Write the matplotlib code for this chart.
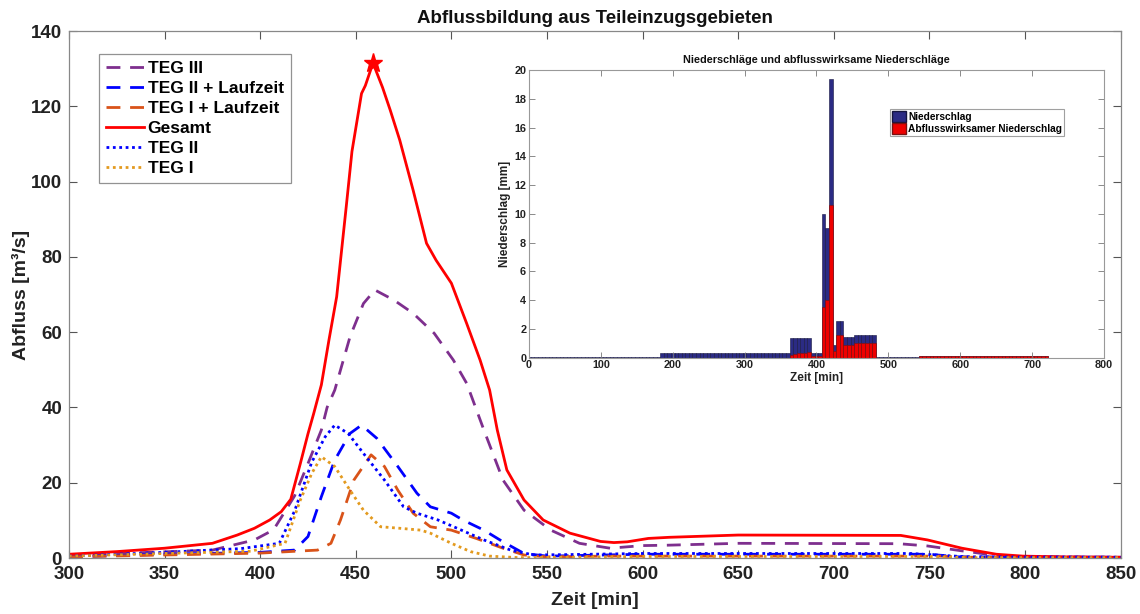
import numpy as np
import matplotlib
matplotlib.use("Agg")
import matplotlib.pyplot as plt
from matplotlib.patches import Patch

plt.rcParams['font.family'] = ['Liberation Sans', 'DejaVu Sans']
plt.rcParams['font.weight'] = 'bold'

# ---------------- main hydrograph data ----------------
t_teg3 = [300, 348, 375, 397, 407, 418, 425, 432, 435, 439, 447, 454, 460, 470, 480, 491, 501, 508, 517, 527, 538, 552, 567, 583, 600, 613, 650, 734, 749, 767, 785, 800, 850]
q_teg3 = [0.8, 1.6, 2.1, 4.8, 7.5, 16.5, 25.1, 34, 40, 44.6, 58.8, 67.6, 71.2, 68.5, 65, 59.7, 52.6, 46.4, 34, 20.7, 12.7, 7.4, 3.9, 2.6, 3.3, 3.4, 3.9, 3.8, 3.2, 1.9, 0.7, 0.3, 0.2]

t_teg2_lz = [300, 350, 400, 418, 425, 432, 439, 447, 453, 461, 472, 482, 489, 500, 506, 517, 527, 538, 550, 600, 750, 765, 850]
q_teg2_lz = [0.3, 1.0, 1.5, 2.1, 5.7, 16.3, 26, 33.1, 35.3, 31.8, 24.3, 17.2, 13.6, 11.9, 10.1, 7.4, 4.3, 1.2, 0.5, 1.0, 1.0, 0.3, 0.2]

t_teg1_lz = [300, 350, 400, 430, 437, 442, 449, 458, 465, 472, 480, 489, 500, 513, 527, 538, 550, 580, 755, 770, 850]
q_teg1_lz = [0.3, 0.8, 1.3, 2.1, 3.9, 10.1, 20.7, 27.4, 24.3, 18, 11.9, 8.3, 7.4, 5.2, 2.6, 0.8, 0.3, 0.5, 0.5, 0.2, 0.1]

t_gesamt = [300, 325, 350, 375, 388, 397, 405, 411, 416, 421, 425, 428, 432, 436, 440, 445, 448, 453, 455, 459, 464, 468, 473, 480, 487, 492, 500, 508, 515, 520, 524, 529, 538, 548, 562, 578, 585, 592, 603, 614, 650, 735, 749, 767, 785, 799, 820, 850]
q_gesamt = [1.0, 1.7, 2.6, 3.9, 6.1, 7.9, 10.1, 12.3, 15.6, 25.1, 33, 38.4, 46, 58, 69.4, 93.3, 108, 123.4, 125.5, 131.5, 125, 119, 111, 97.7, 83.6, 79.1, 73, 62.3, 52.6, 44.6, 34, 23.4, 15.4, 10.1, 6.6, 4.4, 4.1, 4.3, 5.2, 5.5, 6.1, 6.0, 4.8, 2.6, 1.0, 0.5, 0.3, 0.2]

t_teg2 = [300, 350, 390, 410, 418, 427, 434, 439, 446, 454, 465, 475, 482, 493, 503, 517, 531, 543, 560, 600, 740, 770, 850]
q_teg2 = [0.5, 1.5, 2.5, 3.9, 12.5, 25.5, 32.2, 35.3, 33.1, 27.8, 20.7, 13.6, 11.9, 10.1, 7.9, 4.8, 2.1, 0.8, 0.9, 1.2, 1.2, 0.3, 0.2]

t_teg1 = [300, 350, 395, 413, 421, 427, 432, 439, 447, 454, 463, 473, 484, 489, 500, 510, 520, 535, 600, 750, 770, 850]
q_teg1 = [0.5, 1.2, 1.8, 3.9, 15.4, 22.5, 26.9, 24.3, 18, 12.7, 8.3, 7.9, 7.4, 6.6, 3.9, 1.7, 0.5, 0.1, 0.4, 0.4, 0.1, 0.1]

x_ticks = [300, 350, 400, 450, 500, 550, 600, 650, 700, 750, 800, 850]
y_ticks = [0, 20, 40, 60, 80, 100, 120, 140]

# ---------------- inset rain data (5-min bins) ----------------
rain_time = list(range(0, 725, 5))
rain_total = ([0.05] * 37 + [0.3] * 24 + [0.35] * 12 + [1.4] * 6 + [0.3] * 3
              + [10.0, 9.0, 19.35, 0.85, 2.55, 2.55] + [1.45] * 3 + [1.55] * 6
              + [0.02] * 12 + [0.15] * 36)
rain_eff = ([0.0] * 73 + [0.2, 0.25, 0.3, 0.3, 0.35, 0.4] + [0.1] * 3
            + [3.55, 4.0, 10.6, 0.45, 1.55, 1.6] + [0.88] * 3 + [1.0] * 6
            + [0.0] * 12 + [0.15] * 36)

# ---------------- figure ----------------
fig = plt.figure(figsize=(11.4, 6.14), dpi=100)
ax = fig.add_axes([0.0605, 0.0912, 0.9225, 0.8583])

c_purple = '#7E2F8E'
c_blue = '#0000FF'
c_orange = '#D95319'
c_red = '#FF0000'
c_yellow = '#E39A1E'
lw = 2.0
dash = (0, (5, 3.5))
dot = (0, (1, 1.3))

ax.plot(t_teg3, q_teg3, color=c_purple, lw=lw, linestyle=dash, label='TEG III')
ax.plot(t_teg2_lz, q_teg2_lz, color=c_blue, lw=lw, linestyle=dash, label='TEG II + Laufzeit')
ax.plot(t_teg1_lz, q_teg1_lz, color=c_orange, lw=lw, linestyle=dash, label='TEG I + Laufzeit')
ax.plot(t_gesamt, q_gesamt, color=c_red, lw=lw, linestyle='-', label='Gesamt')
ax.plot(t_teg2, q_teg2, color=c_blue, lw=lw, linestyle=dot, label='TEG II')
ax.plot(t_teg1, q_teg1, color=c_yellow, lw=lw, linestyle=dot, label='TEG I')

ipk = int(np.argmax(q_gesamt))
ax.plot([t_gesamt[ipk]], [q_gesamt[ipk]], marker='*', color=c_red, markersize=14, linestyle='none')

ax.set_xlim(300, 850)
ax.set_ylim(0, 140)
ax.set_xticks(x_ticks)
ax.set_yticks(y_ticks)
ax.tick_params(direction='in', top=True, right=True, length=6, width=0.8,
               colors='#555555', labelcolor='#222222', labelsize=13.5)
ax.tick_params(axis='x', pad=6)
ax.tick_params(axis='y', pad=5)
for lab in ax.get_xticklabels() + ax.get_yticklabels():
    lab.set_fontweight('bold')
for s in ax.spines.values():
    s.set_color('#888888')
    s.set_linewidth(0.9)
ax.set_xlabel('Zeit [min]', fontsize=14, fontweight='bold', color='#222222', labelpad=6)
ax.set_ylabel('Abfluss [m³/s]', fontsize=14, fontweight='bold', color='#222222')
ax.yaxis.set_label_coords(-0.037, 0.5)
ax.set_title('Abflussbildung aus Teileinzugsgebieten', fontsize=13.5, fontweight='bold',
             color='#111111', pad=6)

leg = ax.legend(loc='upper left', bbox_to_anchor=(0.0285, 0.957),
                prop={'weight': 'bold', 'size': 12.5}, handlelength=2.2, handletextpad=0.2,
                labelspacing=0.28, borderpad=0.4, borderaxespad=0, frameon=True, fancybox=False)
leg.get_frame().set_edgecolor('#777777')
leg.get_frame().set_linewidth(0.9)

# ---------------- inset ----------------
ax2 = fig.add_axes([0.464, 0.4174, 0.5044, 0.4686])
ax2.bar(rain_time, rain_total, width=5, color='#2B2B84', edgecolor='#15153f', linewidth=0.4)
ax2.bar(rain_time, rain_eff, width=5, color='#EE0000', edgecolor='#7a1010', linewidth=0.4)
ax2.set_xlim(0, 800)
ax2.set_ylim(0, 20)
ax2.set_xticks(range(0, 801, 100))
ax2.set_yticks(range(0, 21, 2))
ax2.tick_params(direction='in', top=True, right=True, length=4, width=0.6,
                colors='#777777', labelcolor='#222222', labelsize=7.8, pad=2)
for lab in ax2.get_xticklabels() + ax2.get_yticklabels():
    lab.set_fontweight('bold')
for s in ax2.spines.values():
    s.set_color('#999999')
    s.set_linewidth(0.8)
ax2.set_xlabel('Zeit [min]', fontsize=8.5, fontweight='bold', color='#222222', labelpad=1)
ax2.set_ylabel('Niederschlag [mm]', fontsize=8.5, fontweight='bold', color='#222222', labelpad=2)
ax2.set_title('Niederschläge und abflusswirksame Niederschläge', fontsize=7.8,
              fontweight='bold', color='#111111', pad=5)
handles = [Patch(facecolor='#2B2B84', edgecolor='#15153f'),
           Patch(facecolor='#EE0000', edgecolor='#7a1010')]
leg2 = ax2.legend(handles, ['Niederschlag', 'Abflusswirksamer Niederschlag'],
                  loc='upper left', bbox_to_anchor=(0.628, 0.866),
                  prop={'weight': 'bold', 'size': 7.3}, handlelength=1.4, handleheight=1.3,
                  handletextpad=0.2, labelspacing=0.1, borderpad=0.2, borderaxespad=0,
                  frameon=True, fancybox=False)
leg2.get_frame().set_edgecolor('#888888')
leg2.get_frame().set_linewidth(0.8)

fig.savefig('out.png', dpi=100)
